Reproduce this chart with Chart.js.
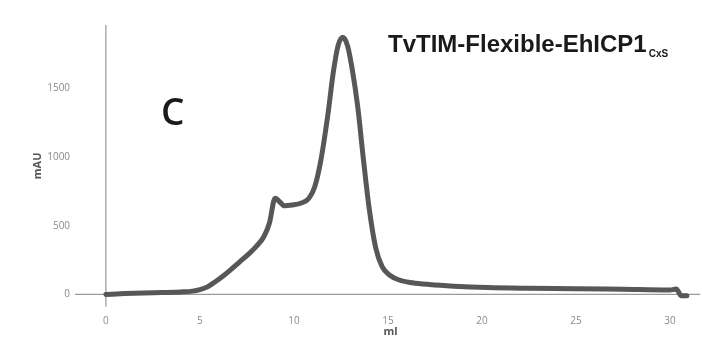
<!DOCTYPE html>
<html>
<head>
<meta charset="utf-8">
<script src="https://cdn.jsdelivr.net/npm/chart.js@4.4.0/dist/chart.umd.min.js"></script>
<style>
  html, body { margin: 0; padding: 0; background: #fff; }
  #wrap { width: 702px; height: 346px; position: relative; }
</style>
</head>
<body>
<div id="wrap"><canvas id="sec"></canvas></div>
<script>
// elution volume (ml) and absorbance (mAU)
var volumeMl = [0, 1, 2, 3, 4, 4.6, 5, 5.4, 5.8, 6.2, 6.6, 7.1, 7.6, 8.0, 8.4, 8.7, 9.0, 9.2,
  9.5, 9.9, 10.4, 10.8, 11.1, 11.4, 11.8, 12.1, 12.35, 12.6, 12.85, 13.1, 13.4, 13.7, 14.0,
  14.35, 14.7, 15.1, 15.6, 16.3, 17.2, 18.5, 20.3, 22.5, 25, 27.5, 30, 30.2, 30.35, 30.45, 30.6, 30.9];
var absMau = [0, 6, 11, 14, 18, 24, 35, 55, 90, 130, 175, 235, 295, 350, 420, 520, 700, 680,
  645, 650, 665, 700, 780, 950, 1300, 1620, 1810, 1870, 1810, 1640, 1360, 980, 630,
  340, 200, 140, 105, 85, 72, 60, 50, 45, 42, 37, 32, 36, 40, 20, -10, -10];

var xTicks = [0, 5, 10, 15, 20, 25, 30];
var yTicks = [0, 500, 1000, 1500];

var points = volumeMl.map(function (v, i) { return { x: v, y: absMau[i] }; });

// axes cross at (0,0) and overhang a little, like the original figure
var crossAxes = {
  id: "crossAxes",
  beforeDatasetsDraw: function (chart) {
    var ctx = chart.ctx;
    var a = chart.chartArea;
    var x0 = chart.scales.x.getPixelForValue(0);
    var y0 = chart.scales.y.getPixelForValue(0);
    ctx.save();
    ctx.strokeStyle = "#9a9a9a";
    ctx.lineWidth = 1.2;
    ctx.beginPath();
    ctx.moveTo(a.left - 6, y0);
    ctx.lineTo(a.right, y0);
    ctx.moveTo(x0, a.top);
    ctx.lineTo(x0, a.bottom);
    ctx.stroke();
    ctx.restore();
  },
  afterDraw: function (chart) {
    var ctx = chart.ctx;
    ctx.save();
    ctx.fillStyle = "#1a1a1a";
    ctx.textBaseline = "alphabetic";
    ctx.font = "600 37px 'Open Sans', sans-serif";
    ctx.fillText("C", 161, 125);
    ctx.font = "bold 24px 'Liberation Sans', Arial, sans-serif";
    ctx.fillText("TvTIM-Flexible-EhICP1", 388, 52);
    var w = ctx.measureText("TvTIM-Flexible-EhICP1").width;
    ctx.font = "bold 10px 'Liberation Sans', Arial, sans-serif";
    ctx.fillText("CxS", 388 + w + 2, 57);
    ctx.restore();
  }
};

new Chart(document.getElementById("sec"), {
  type: "scatter",
  data: {
    datasets: [{
      data: points,
      showLine: true,
      borderColor: "#575757",
      borderWidth: 5,
      pointRadius: 0,
      cubicInterpolationMode: "monotone",
      borderCapStyle: "round",
      borderJoinStyle: "round"
    }]
  },
  options: {
    responsive: true,
    maintainAspectRatio: false,
    animation: false,
    layout: { padding: { top: 25, right: 2, left: 31, bottom: 8 } },
    plugins: { legend: { display: false }, tooltip: { enabled: false } },
    scales: {
      x: {
        type: "linear",
        min: -1.32,
        max: 31.6,
        grid: { display: false },
        border: { display: false },
        afterBuildTicks: function (s) { s.ticks = xTicks.map(function (v) { return { value: v }; }); },
        ticks: { color: "#8a8a8a", font: { family: "'Open Sans', sans-serif", size: 10 }, padding: 0, maxRotation: 0,
          callback: function (v) { return String(v); } },
        title: { display: true, text: "ml", color: "#555", font: { family: "'Open Sans', sans-serif", size: 11, weight: "bold" }, padding: { top: -2, bottom: 0 } }
      },
      y: {
        type: "linear",
        min: -90,
        max: 1960,
        grid: { display: false },
        border: { display: false },
        afterBuildTicks: function (s) { s.ticks = yTicks.map(function (v) { return { value: v }; }); },
        ticks: { color: "#8a8a8a", font: { family: "'Open Sans', sans-serif", size: 10 }, padding: 3,
          callback: function (v) { return String(v); } },
        title: { display: true, text: "mAU", color: "#555", font: { family: "'Open Sans', sans-serif", size: 11, weight: "bold" }, padding: 0 }
      }
    }
  },
  plugins: [crossAxes]
});
</script>
</body>
</html>
